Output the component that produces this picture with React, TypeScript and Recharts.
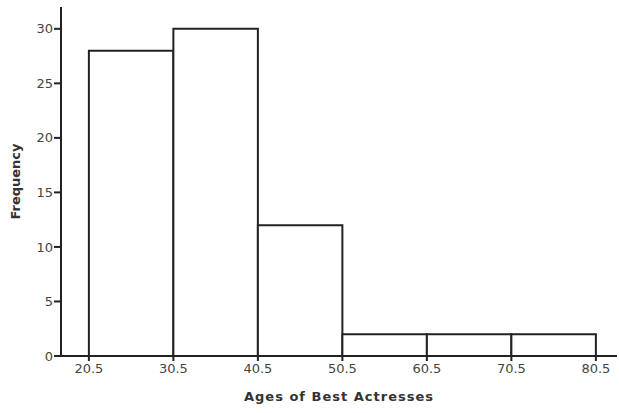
import { ComposedChart, Line, ReferenceArea, XAxis, YAxis, Label } from 'recharts'

const binStarts = [20.5, 30.5, 40.5, 50.5, 60.5, 70.5]
const binEnds = [30.5, 40.5, 50.5, 60.5, 70.5, 80.5]
const frequencies = [28, 30, 12, 2, 2, 2]
const xTicks = [20.5, 30.5, 40.5, 50.5, 60.5, 70.5, 80.5]
const yTicks = [0, 5, 10, 15, 20, 25, 30]

const data = binStarts.map((s, i) => ({
  mid: (s + binEnds[i]) / 2,
  freq: frequencies[i],
}))

const font = '"DejaVu Sans", sans-serif'
const tickStyle = { fontSize: 13, fill: '#444', fontFamily: font }

export default function App() {
  return (
    <div style={{ position: 'absolute', left: 0, top: 0, background: '#fff' }}>
      <ComposedChart
        width={619}
        height={413}
        data={data}
        margin={{ top: 7, right: 2, bottom: 7, left: 21 }}
      >
        <XAxis
          type="number"
          dataKey="mid"
          domain={[17.2, 83]}
          ticks={xTicks}
          allowDataOverflow
          height={50}
          tick={tickStyle}
          tickSize={5}
          tickMargin={3}
          stroke="#222"
          strokeWidth={2}
          tickFormatter={(v: number) => v.toFixed(1)}
        >
          <Label
            value="Ages of Best Actresses"
            position="insideBottom"
            offset={5}
            style={{ fontSize: 13, fill: '#333', fontWeight: 'bold', fontFamily: font, letterSpacing: 1 }}
          />
        </XAxis>
        <YAxis
          type="number"
          domain={[0, 32]}
          ticks={yTicks}
          allowDataOverflow
          width={40}
          tick={tickStyle}
          tickSize={7}
          tickMargin={1}
          stroke="#222"
          strokeWidth={2}
        >
          <Label
            value="Frequency"
            angle={-90}
            position="insideLeft"
            offset={-6}
            style={{ fontSize: 13, fill: '#333', fontWeight: 'bold', fontFamily: font, textAnchor: 'middle' }}
          />
        </YAxis>
        {binStarts.map((s, i) => (
          <ReferenceArea
            key={s}
            x1={s}
            x2={binEnds[i]}
            y1={0}
            y2={frequencies[i]}
            fill="#fff"
            fillOpacity={1}
            stroke="#222"
            strokeWidth={2}
            ifOverflow="visible"
          />
        ))}
        <Line
          dataKey="freq"
          stroke="none"
          dot={false}
          activeDot={false}
          isAnimationActive={false}
        />
      </ComposedChart>
    </div>
  )
}
